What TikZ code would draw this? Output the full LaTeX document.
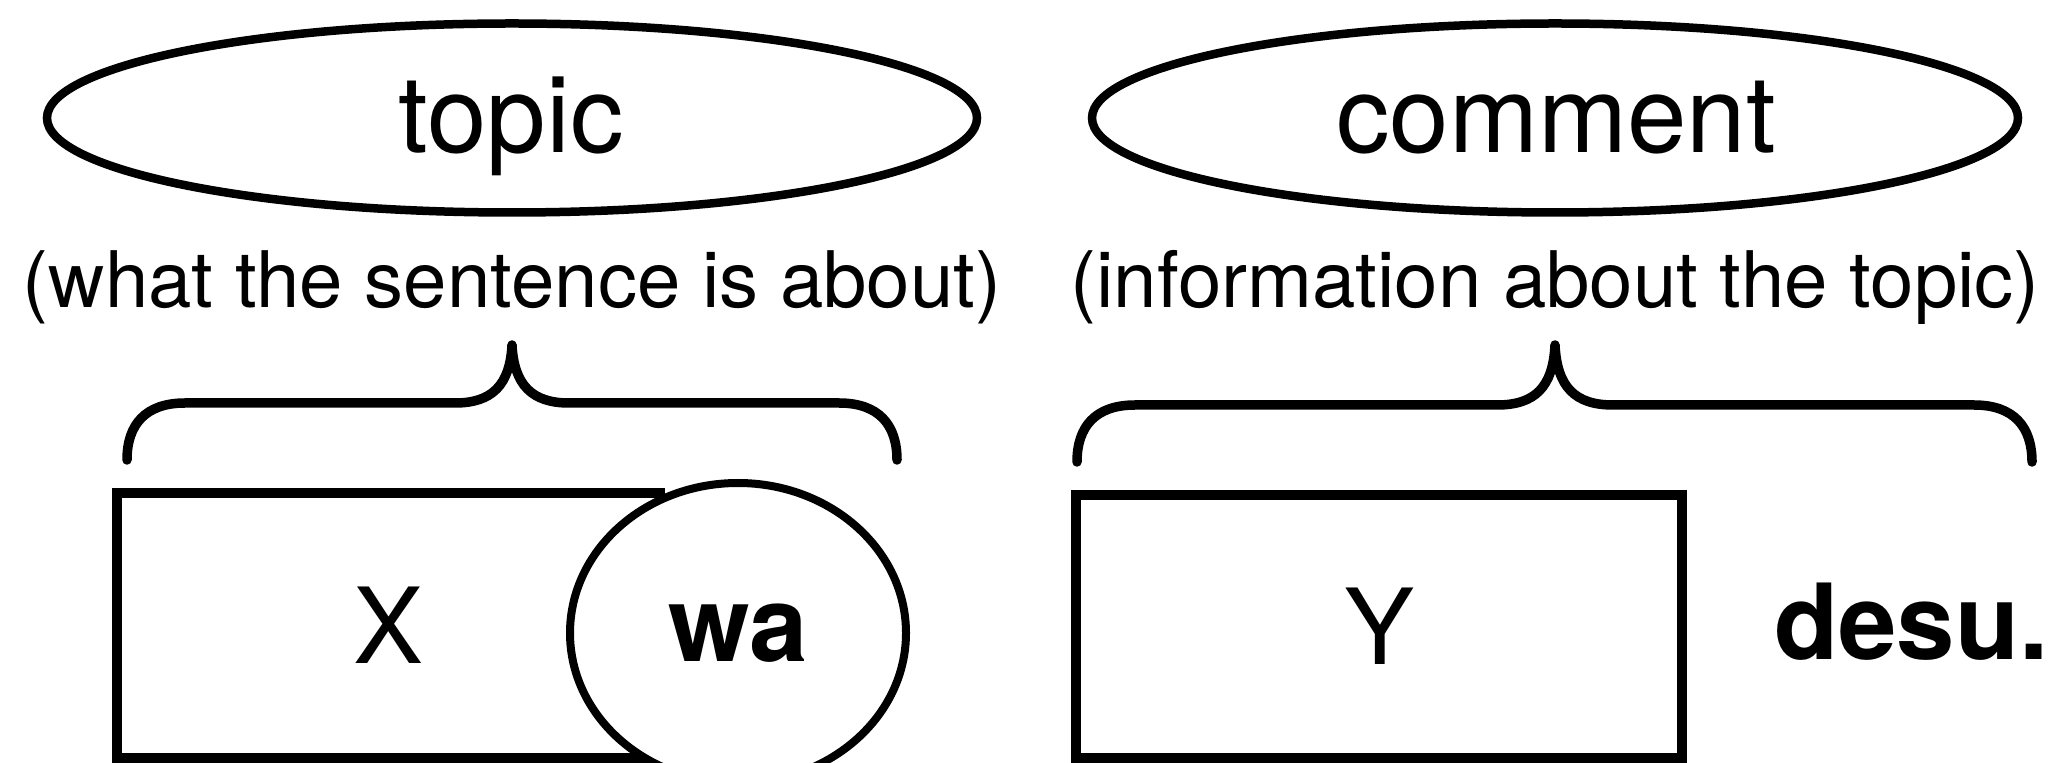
\documentclass[tikz,border=0pt]{standalone}
\usepackage{fontspec}
\setmainfont{TeX Gyre Heros}
\usetikzlibrary{shapes.geometric}
\begin{document}
\begin{tikzpicture}[x=0.5pt,y=-0.5pt,
  oval/.style={draw, ellipse, line width=4.25pt, inner sep=0pt},
  bigword/.style={font=\fontsize{53.5}{60}\selectfont, inner sep=0pt, anchor=base},
  gloss/.style={font=\fontsize{39}{45}\selectfont, inner sep=0pt, anchor=base},
  slot/.style={draw, rectangle, line width=5pt, fill=white, inner sep=0pt, font=\fontsize{52.5}{60}\selectfont},
  particle/.style={draw, ellipse, line width=4pt, fill=white, inner sep=0pt, font=\fontsize{52.5}{60}\selectfont\bfseries},
  boldword/.style={font=\fontsize{52.5}{60}\selectfont\bfseries, inner sep=0pt, anchor=base west},
  brace/.style={line width=4.75pt, line cap=round, line join=round}]
\useasboundingbox (0,0) rectangle (2055,763);
\begin{scope}
\clip (0,0) rectangle (2055,763);
% ellipses
\node[oval, minimum width=465pt, minimum height=94.5pt] (topicE) at (512,118) {};
\node[oval, minimum width=463pt, minimum height=94.5pt] (commentE) at (1555,118) {};
\node[bigword] (topicT) at (511,153) {topic};
\node[bigword] (commentT) at (1556,153) {comment};
% glosses
\node[gloss] (topicG) at (512,308) {(what the sentence is about)};
\node[gloss] (commentG) at (1555,308) {(information about the topic)};
% braces
\draw[brace] (127,460) .. controls (127,425) and (145,403) .. (185,403) -- (455,403)
  .. controls (492,403) and (510,385) .. (512,345)
  .. controls (514,385) and (532,403) .. (569,403) -- (839,403)
  .. controls (879,403) and (897,425) .. (897,460);
\draw[brace] (1077,462) .. controls (1077,427) and (1095,405) .. (1135,405) -- (1497,405)
  .. controls (1535,405) and (1553,387) .. (1555,345)
  .. controls (1557,387) and (1575,405) .. (1613,405) -- (1974,405)
  .. controls (2014,405) and (2032,427) .. (2032,462);
% boxes
\node[slot, minimum width=271.5pt, minimum height=132.5pt] (xbox) at (388.5,625.5) {X};
\node[particle, minimum width=168pt, minimum height=150pt] (wa) at (738,633) {wa};
\node[slot, minimum width=303pt, minimum height=131.5pt] (ybox) at (1379,626.5) {Y};
\node[boldword] (desu) at (1774,660) {desu.};
\end{scope}
\end{tikzpicture}
\end{document}
